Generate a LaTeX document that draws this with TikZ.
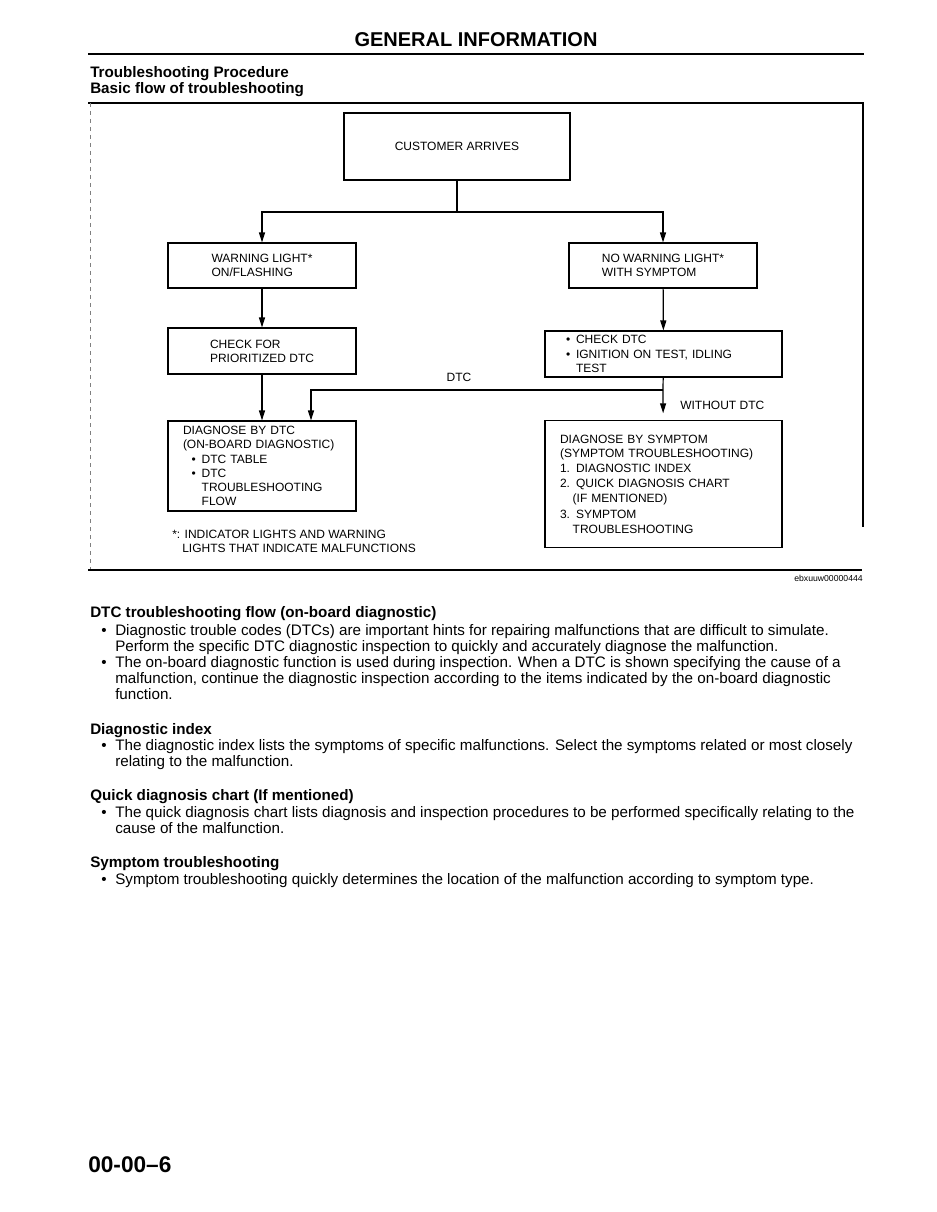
\documentclass[tikz,border=0pt]{standalone}
\usepackage{fontspec}
\setmainfont{Liberation Sans}
\usetikzlibrary{arrows.meta}

\newcommand{\diagfont}{\fontsize{9}{10.6}\selectfont}
\newcommand{\bodyfont}{\fontsize{11.4}{12.2}\selectfont}
\newcommand{\dotitem}{\makebox[7.5pt][l]{\textbullet}}

\tikzset{
  box/.style={draw, line width=0.8pt, align=left, inner sep=2pt, font=\diagfont},
  arr/.style={line width=0.9pt, -{Triangle[length=7.5pt,width=4.5pt]}},
  link/.style={line width=0.9pt},
  tag/.style={font=\diagfont, inner sep=0pt},
  para/.style={anchor=north west, inner sep=0pt, align=left, font=\bodyfont},
  head/.style={anchor=north west, inner sep=0pt, font=\bfseries\fontsize{11.4}{12.5}\selectfont},
}

\begin{document}
\begin{tikzpicture}[x=0.75pt,y=-0.75pt]
\useasboundingbox (0,0) rectangle (937,1212);

% page heading
\node[font=\bfseries\fontsize{15}{17}\selectfont] (title) at (476,40) {GENERAL INFORMATION};
\draw[line width=2.2pt] (88,54) -- (864,54);
\node[head, align=left] (proc) at (90,66) {Troubleshooting Procedure\\Basic flow of troubleshooting};

% frame of the chart
\draw[line width=1pt] (88,103) -- (863,103) -- (863,527);
\draw[line width=0.4pt, gray, dashed] (90,103) -- (90,570);
\draw[line width=1.6pt] (88,570) -- (862,570);
\node[font=\fontsize{6.5}{7}\selectfont, anchor=east, inner sep=0pt] (code) at (863,578) {ebxuuw00000444};

% boxes
\node[box, minimum width=169.5pt, minimum height=50.25pt, align=center] (cust) at (457,146.5) {CUSTOMER ARRIVES};
\node[box, minimum width=141pt, minimum height=33.75pt] (warn) at (262,265.5) {WARNING LIGHT*\\ON/FLASHING};
\node[box, minimum width=141pt, minimum height=33.75pt] (nowarn) at (663,265.5) {NO WARNING LIGHT*\\WITH SYMPTOM};
\node[box, minimum width=141pt, minimum height=34.5pt] (chkpri) at (262,351) {CHECK FOR\\PRIORITIZED DTC};
\node[box, inner xsep=15.75pt, text width=146.25pt, minimum height=34.5pt, inner ysep=0.5pt] (chkdtc) at (663.5,354)
  {\dotitem CHECK DTC\\\dotitem IGNITION ON TEST, IDLING\\\hspace*{7.5pt}TEST};
\node[box, inner xsep=11.25pt, text width=118.5pt, minimum height=67.5pt] (dtcdiag) at (262,466)
  {DIAGNOSE BY DTC\\(ON-BOARD DIAGNOSTIC)\\\hspace*{6.5pt}\dotitem DTC TABLE\\\hspace*{6.5pt}\dotitem DTC\\
   \hspace*{14pt}TROUBLESHOOTING\\\hspace*{14pt}FLOW};
\node[box, inner xsep=11.25pt, text width=155.25pt, minimum height=95.25pt] (symdiag) at (663.5,484)
  {DIAGNOSE BY SYMPTOM\\[0.4pt](SYMPTOM TROUBLESHOOTING)\\[0.4pt]1. DIAGNOSTIC INDEX\\[1pt]
   2. QUICK DIAGNOSIS CHART\\[0.4pt]\hspace*{9.5pt}(IF MENTIONED)\\[1.4pt]3. SYMPTOM\\[0.4pt]\hspace*{9.5pt}TROUBLESHOOTING};

% connectors
\coordinate (split) at (457,212);
\coordinate (fork) at (663,390);
\draw[link] (cust) -- (split);
\draw[arr] (split) -| (warn);
\draw[arr] (split) -| (nowarn);
\draw[arr] (warn) -- (chkpri);
\draw[arr] (nowarn) -- (chkdtc);
\draw[arr] (chkpri) -- (dtcdiag);
\draw[link] (chkdtc) -- (fork);
\draw[arr] (fork) -| ([xshift=36.75pt]dtcdiag.north);
\draw[arr, shorten >=5pt] (fork) -- (symdiag);
\node[tag] (dtclbl) at (459,377) {DTC};
\node[tag, anchor=west] (nodtc) at (680,405) {WITHOUT DTC};
\node[tag, anchor=north west, align=left] (note) at (172,530)
  {*: INDICATOR LIGHTS AND WARNING\\\hspace*{7.5pt}LIGHTS THAT INDICATE MALFUNCTIONS};

% text below the chart
\node[head] (h1) at (90,606) {DTC troubleshooting flow (on-board diagnostic)};
\node[para] (p1) at (115,624) {\llap{\textbullet\hspace{6.5pt}}Diagnostic trouble codes (DTCs) are important hints for repairing malfunctions that are difficult to simulate.\\
  Perform the specific DTC diagnostic inspection to quickly and accurately diagnose the malfunction.};
\node[para] (p2) at (115,656) {\llap{\textbullet\hspace{6.5pt}}The on-board diagnostic function is used during inspection. When a DTC is shown specifying the cause of a\\
  malfunction, continue the diagnostic inspection according to the items indicated by the on-board diagnostic\\function.};

\node[head] (h2) at (90,723) {Diagnostic index};
\node[para] (p3) at (115,739) {\llap{\textbullet\hspace{6.5pt}}The diagnostic index lists the symptoms of specific malfunctions. Select the symptoms related or most closely\\
  relating to the malfunction.};

\node[head] (h3) at (90,789) {Quick diagnosis chart (If mentioned)};
\node[para] (p4) at (115,806) {\llap{\textbullet\hspace{6.5pt}}The quick diagnosis chart lists diagnosis and inspection procedures to be performed specifically relating to the\\
  cause of the malfunction.};

\node[head] (h4) at (90,856) {Symptom troubleshooting};
\node[para] (p5) at (115,873) {\llap{\textbullet\hspace{6.5pt}}Symptom troubleshooting quickly determines the location of the malfunction according to symptom type.};

% page number
\node[font=\bfseries\fontsize{17}{20}\selectfont, anchor=west, inner sep=0pt] (pageno) at (88,1165) {00-00\textendash 6};
\end{tikzpicture}
\end{document}
